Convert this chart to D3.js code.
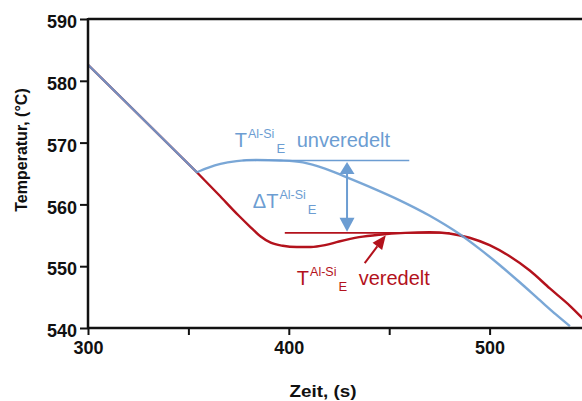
<!DOCTYPE html>
<html><head><meta charset="utf-8">
<script src="https://cdn.jsdelivr.net/npm/d3@7"></script>
<style>html,body{margin:0;padding:0;background:#fff;overflow:hidden}</style>
</head><body>
<svg id="chart" width="582" height="401"></svg>
<script>
// Cooling curves of an Al-Si melt, unmodified (unveredelt) and modified (veredelt).
// Both curves share the straight cooling segment up to the branch point.
const timeShared = [300, 354.2];
const tempShared = [582.6, 565.2];

const timeUnveredelt = [354.2, 360, 366, 374, 384, 396, 407, 418, 428, 442, 455, 470, 485, 495, 505, 515, 525, 533, 540];
const tempUnveredelt = [565.2, 565.95, 566.55, 567.0, 567.2, 567.1, 566.8, 565.8, 564.5, 562.6, 560.7, 558.2, 555.2, 552.8, 550.2, 547.4, 544.5, 542.2, 540.3];

const timeVeredelt = [354.2, 365, 375, 381, 386, 391, 397, 404, 411, 418, 425, 435, 445, 458, 470, 480, 490, 500, 510, 520, 530, 540, 548];
const tempVeredelt = [565.2, 561.6, 558.2, 556.3, 554.8, 553.8, 553.3, 553.1, 553.1, 553.4, 554.0, 554.7, 555.1, 555.4, 555.5, 555.3, 554.6, 553.4, 551.6, 549.3, 546.4, 543.6, 541.0];

// eutectic temperature levels and the time spans of their marker lines
const eutUnveredelt = 567.1, eutUnveredeltSpan = [377, 460];
const eutVeredelt = 555.4, eutVeredeltSpan = [398, 480];
const deltaTime = 429;              // where the ΔT arrow stands
const arrowFrom = [437.8, 550.5], arrowTo = [448.3, 555.0];

const xTickValues = [300, 350, 400, 450, 500];
const xTickLabels = ["300", "", "400", "", "500"];
const yTickValues = [540, 550, 560, 570, 580, 590];

const BLUE = "#6c9dd2", RED = "#b3121c", FONT = "'Liberation Sans', Arial, sans-serif";

const svg = d3.select("#chart");
const x = d3.scaleLinear().domain([300, 550]).range([88, 590]);
const y = d3.scaleLinear().domain([540, 590]).range([328, 19]);

// frame: top border line
svg.append("line").attr("x1", x(300)).attr("x2", x(550)).attr("y1", y(590)).attr("y2", y(590))
  .attr("stroke", "#111").attr("stroke-width", 2.5);

// curves: straight shared segment followed by a smooth branch
const smooth = d3.line().x(d => x(d[0])).y(d => y(d[1])).curve(d3.curveMonotoneX);
function curvePath(times, temps) {
  const head = d3.zip(timeShared, tempShared).map((d, i) => (i ? "L" : "M") + x(d[0]) + "," + y(d[1])).join("");
  const tail = smooth(d3.zip(times, temps)).replace(/^M[^CLHVZ]*/, "");
  return head + tail;
}
svg.append("path").attr("d", curvePath(timeVeredelt, tempVeredelt))
  .attr("fill", "none").attr("stroke", RED).attr("stroke-width", 2.4).attr("stroke-linejoin", "round");
svg.append("path").attr("d", curvePath(timeUnveredelt, tempUnveredelt))
  .attr("fill", "none").attr("stroke", BLUE).attr("stroke-width", 2.4).attr("stroke-opacity", 0.9)
  .attr("stroke-linejoin", "round");

// eutectic level markers
svg.append("line").attr("x1", x(eutUnveredeltSpan[0])).attr("x2", x(eutUnveredeltSpan[1]))
  .attr("y1", y(eutUnveredelt)).attr("y2", y(eutUnveredelt)).attr("stroke", BLUE).attr("stroke-width", 1.6);
svg.append("line").attr("x1", x(eutVeredeltSpan[0])).attr("x2", x(eutVeredeltSpan[1]))
  .attr("y1", y(eutVeredelt)).attr("y2", y(eutVeredelt)).attr("stroke", RED).attr("stroke-width", 1.6);

// ΔT double arrow
const ax = x(deltaTime), aTop = y(eutUnveredelt) + 1.5, aBot = y(eutVeredelt) - 1;
svg.append("line").attr("x1", ax).attr("x2", ax).attr("y1", aTop + 8).attr("y2", aBot - 8)
  .attr("stroke", BLUE).attr("stroke-width", 2);
svg.append("path").attr("d", `M${ax},${aTop} L${ax - 7.5},${aTop + 12} L${ax + 7.5},${aTop + 12} Z`).attr("fill", BLUE);
svg.append("path").attr("d", `M${ax},${aBot} L${ax - 7.5},${aBot - 14} L${ax + 7.5},${aBot - 14} Z`).attr("fill", BLUE);

// red pointer arrow
{
  const x0 = x(arrowFrom[0]), y0 = y(arrowFrom[1]), x1 = x(arrowTo[0]), y1 = y(arrowTo[1]);
  const ang = Math.atan2(y1 - y0, x1 - x0), L = 14, W = 6;
  const bx = x1 - L * Math.cos(ang), by = y1 - L * Math.sin(ang);
  const px = -Math.sin(ang) * W, py = Math.cos(ang) * W;
  svg.append("line").attr("x1", x0).attr("y1", y0).attr("x2", bx).attr("y2", by)
    .attr("stroke", RED).attr("stroke-width", 2);
  svg.append("path").attr("d", `M${x1},${y1} L${bx + px},${by + py} L${bx - px},${by - py} Z`).attr("fill", RED);
}

// labels with super/subscripts
function eutLabel(tx, ty, color, prefix, suffix) {
  const t = svg.append("text").attr("x", x(tx)).attr("y", y(ty)).attr("fill", color)
    .style("font-family", FONT).style("font-size", "20px");
  t.append("tspan").text(prefix + "T");
  t.append("tspan").attr("dy", -9).attr("dx", 1).style("font-size", "12.5px").text("Al-Si");
  t.append("tspan").attr("dy", 15).attr("dx", 2).style("font-size", "13px").text("E");
  if (suffix) t.append("tspan").attr("dy", -6).attr("dx", 6).text(" " + suffix);
}
eutLabel(373.1, 569.3, BLUE, "", "unveredelt");
eutLabel(382.1, 559.4, BLUE, "Δ", "");
eutLabel(404.0, 547.0, RED, "", "veredelt");

// axes
const xAxis = svg.append("g").attr("transform", `translate(0,${y(540)})`)
  .call(d3.axisBottom(x).tickValues(xTickValues).tickFormat((d, i) => xTickLabels[i]).tickSize(7).tickPadding(5).tickSizeOuter(0));
const yAxis = svg.append("g").attr("transform", `translate(${x(300)},0)`)
  .call(d3.axisLeft(y).tickValues(yTickValues).tickFormat(d3.format("d")).tickSize(8).tickPadding(3).tickSizeOuter(0));
[xAxis, yAxis].forEach(g => {
  g.select(".domain").attr("stroke", "#111").attr("stroke-width", 2.5);
  g.selectAll(".tick line").attr("stroke", "#111").attr("stroke-width", 2);
  g.selectAll(".tick text").attr("fill", "#111").style("font-family", FONT)
    .style("font-size", "18px").style("font-weight", "bold");
});
xAxis.select(".domain").attr("d", `M${x(300)},0H${x(550)}`);
yAxis.select(".domain").attr("d", `M0,${y(540) + 1}V${y(590) - 1}`);
yAxis.selectAll(".tick text").attr("dy", "0.48em");
xAxis.selectAll(".tick text").attr("dy", "0.75em");

// axis titles
svg.append("text").attr("transform", `translate(323,397) scale(1.18,1)`).attr("text-anchor", "middle")
  .style("font-family", FONT).style("font-size", "16px").style("font-weight", "bold").attr("fill", "#111")
  .text("Zeit, (s)");
svg.append("text").attr("transform", `translate(27,150) rotate(-90)`).attr("text-anchor", "middle")
  .style("font-family", FONT).style("font-size", "16px").style("font-weight", "bold").attr("fill", "#111")
  .text("Temperatur, (°C)");
</script>
</body></html>
